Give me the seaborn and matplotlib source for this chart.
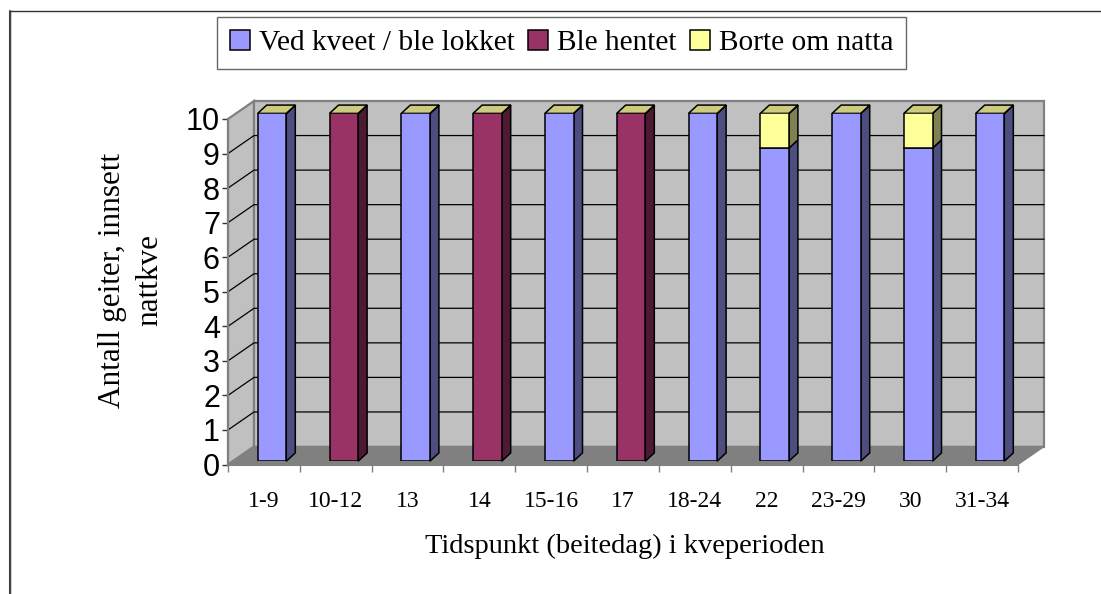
import matplotlib
matplotlib.use('Agg')
import matplotlib.pyplot as plt
import pandas as pd
import seaborn as sns
from matplotlib.lines import Line2D
from matplotlib.patches import Patch, Polygon, Rectangle

labels = ['1-9', '10-12', '13', '14', '15-16', '17', '18-24', '22', '23-29', '30', '31-34']
ved = [10, 0, 10, 0, 10, 0, 10, 9, 10, 9, 10]
hentet = [0, 10, 0, 10, 0, 10, 0, 0, 0, 0, 0]
borte = [0, 0, 0, 0, 0, 0, 0, 1, 0, 1, 0]
series_names = ['Ved kveet / ble lokket', 'Ble hentet', 'Borte om natta']
y_ticks = list(range(11))

colors = ['#9999FF', '#993366', '#FFFF99']
side_colors = ['#4D4D80', '#4D1933', '#808050']
top_color = '#CCCC80'
W, H = 1101, 594
SERIF = 'Liberation Serif'


def px_axes(fig, left, top, right, bottom):
    return fig.add_axes([left / W, 1 - bottom / H, (right - left) / W, (bottom - top) / H])


def draw_room(ax):
    # depth of the room in data units of the front axes
    dx, dy = 26 / 71.8, 18 / 34.55
    x0, x1 = ax.get_xlim()
    ax.add_patch(Polygon([(x0, 0), (x0 + dx, dy), (x0 + dx, 10 + dy), (x0, 10)], fc='#C0C0C0', ec='#808080', lw=1.6, clip_on=False))
    ax.add_patch(Rectangle((x0 + dx, dy), x1 - x0, 10, fc='#C0C0C0', ec='#808080', lw=1.6, clip_on=False))
    for v in y_ticks[1:-1]:
        ax.plot([x0, x0 + dx, x1 + dx], [v, v + dy, v + dy], color='black', lw=0.9, clip_on=False)
    ax.add_patch(Polygon([(x0, 0), (x1, 0), (x1 + dx, dy), (x0 + dx, dy)], fc='#808080', ec='#808080', lw=1, clip_on=False))


def draw_depth(ax, bottoms, tops, side, top_face=False):
    dx, dy = 9 / 71.8, 8.3 / 34.75
    hw = 28.6 / 71.8 / 2
    for i, (b, t) in enumerate(zip(bottoms, tops)):
        if t == b:
            continue
        r = i + hw
        ax.add_patch(Polygon([(r, b), (r + dx, b + dy), (r + dx, t + dy), (r, t)], fc=side, ec='black', lw=1.1, clip_on=False, zorder=1))
        if top_face:
            ax.add_patch(Polygon([(i - hw, t), (i - hw + dx, t + dy), (r + dx, t + dy), (r, t)], fc=top_color, ec='black', lw=1.1, clip_on=False, zorder=1))


def main():
    sns.set_theme(style='white', rc={'font.family': ['Liberation Sans']})
    fig = plt.figure(figsize=(W / 100, H / 100), dpi=100, facecolor='white')

    # chart outline, cut by the picture on the right and bottom
    fig.add_artist(Line2D([10 / W, 10 / W, 1], [0, 1 - 11 / H, 1 - 11 / H], color='#333333', lw=1.0))
    fig.add_artist(Line2D([10 / W, 10 / W], [0, 1 - 11 / H], color='#404040', lw=1.5))

    ax = px_axes(fig, 228, 119, 1018, 464.5)
    ax.set_xlim(-0.5, 10.5)
    ax.set_ylim(0, 10)
    ax.patch.set_visible(False)
    draw_room(ax)
    sns.despine(ax=ax, top=True, right=True)
    for side in ['left', 'bottom']:
        ax.spines[side].set_color('#808080')
        ax.spines[side].set_linewidth(1.5)
    ax.set_xticks([i - 0.5 for i in range(12)])
    ax.set_xticklabels([])
    ax.set_xticks(range(11), labels, minor=True, family=SERIF, fontsize=17)
    ax.tick_params(axis='x', which='major', bottom=True, length=5, width=1, color='#808080')
    ax.tick_params(axis='x', which='minor', bottom=False, pad=15, labelcolor='black')
    ax.set_yticks(y_ticks)
    ax.tick_params(axis='y', left=True, length=4.5, width=1, color='#333333', labelsize=22, pad=1.3, labelcolor='black')
    ax.set_xlabel('Tidspunkt (beitedag) i kveperioden', family=SERIF, fontsize=20.5, color='black', va='center')
    ax.xaxis.set_label_coords((625 - 228) / 790, (464.5 - 546) / 345.5)
    ax.set_ylabel('Antall geiter, innsett\nnattkve', family=SERIF, fontsize=22.5, color='black', linespacing=1.4, va='center')
    ax.yaxis.set_label_coords((131 - 228) / 790, (464.5 - 280) / 345.5)

    # bars sit a little behind the front plane
    bar_ax = px_axes(fig, 236.1, 113.4, 1025.9, 461.2)
    bar_ax.patch.set_visible(False)
    bar_ax.set_axis_off()
    df = pd.DataFrame({'tid': labels, 'ved': ved, 'hentet': hentet, 'borte': borte})
    bottom = pd.Series(0, index=df.index)
    for col, color, side in zip(['ved', 'hentet', 'borte'], colors, side_colors):
        part = df[df[col] > 0]
        sns.barplot(data=part, x='tid', y=col, order=labels, color=color, saturation=1, width=28.6 / 71.8,
                    bottom=bottom[part.index].to_numpy(), edgecolor='black', linewidth=1.1, ax=bar_ax, zorder=2)
        top = bottom + df[col]
        draw_depth(bar_ax, bottom, top, side)
        bottom = top
    draw_depth(bar_ax, [t - 1e-3 for t in bottom], bottom, side_colors[0], top_face=True)
    bar_ax.set_xlim(-0.5, 10.5)
    bar_ax.set_ylim(0, 10)

    handles = [Patch(fc=c, ec='black', lw=1.1) for c in colors]
    leg = fig.legend(handles, series_names, loc='center', bbox_to_anchor=(561.5 / W, 1 - 43 / H), ncol=3,
                     prop={'family': SERIF, 'size': 21.2}, frameon=True, fancybox=False, edgecolor='#666666',
                     framealpha=1, handlelength=0.69, handleheight=0.69, handletextpad=0.3, columnspacing=0.45,
                     borderpad=0.42, borderaxespad=0, labelcolor='black')
    leg.get_frame().set_linewidth(1)

    fig.savefig('out.png', dpi=100)


if __name__ == '__main__':
    main()
